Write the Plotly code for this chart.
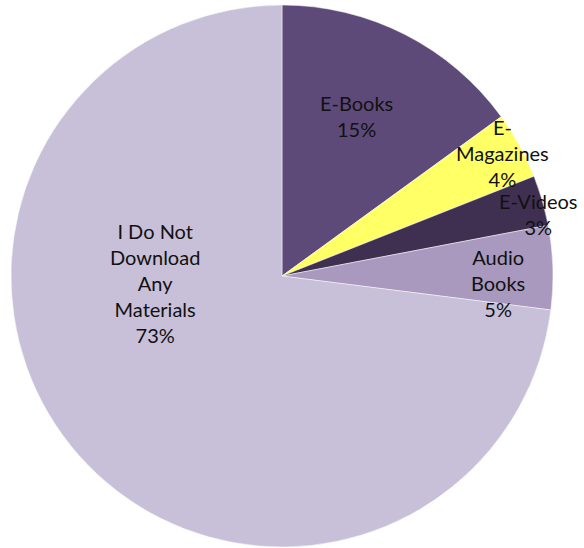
import plotly.graph_objects as go

# Share of respondents by type of material downloaded
categories = ["E-Books", "E-Magazines", "E-Videos", "Audio Books", "I Do Not Download Any Materials"]
shares = [15, 4, 3, 5, 73]
label_lines = [
    ["E-Books"],
    ["E-", "Magazines"],
    ["E-Videos"],
    ["Audio", "Books"],
    ["I Do Not", "Download", "Any", "Materials"],
]
colors = ["#5E4A78", "#FFFF66", "#3F3052", "#A999BF", "#C8C0D8"]

W, H = 584, 548

# label anchor points (pixels in the figure) for each slice's data label
label_px = [(357, 116), (502, 153), (538, 214), (498, 283), (155, 283)]

fig = go.Figure(
    go.Pie(
        labels=categories,
        values=shares,
        sort=False,
        direction="clockwise",
        rotation=0,
        marker=dict(colors=colors, line=dict(color="rgba(255,255,255,0.6)", width=0.8)),
        textinfo="none",
        hoverinfo="label+percent",
        showlegend=False,
        domain=dict(x=[10 / W, 554 / W], y=[1 - 547 / H, 1 - 5 / H]),
    )
)

for lines, v, (px, py) in zip(label_lines, shares, label_px):
    fig.add_annotation(
        x=px / W,
        y=1 - py / H,
        xref="paper",
        yref="paper",
        text="<br>".join(lines + [f"{v}%"]),
        showarrow=False,
        align="center",
        xanchor="center",
        yanchor="middle",
        font=dict(family="Lato", size=20, color="#111111"),
    )

fig.update_layout(
    width=W,
    height=H,
    margin=dict(l=0, r=0, t=0, b=0),
    paper_bgcolor="white",
    plot_bgcolor="white",
)

fig.write_html("out.html")
